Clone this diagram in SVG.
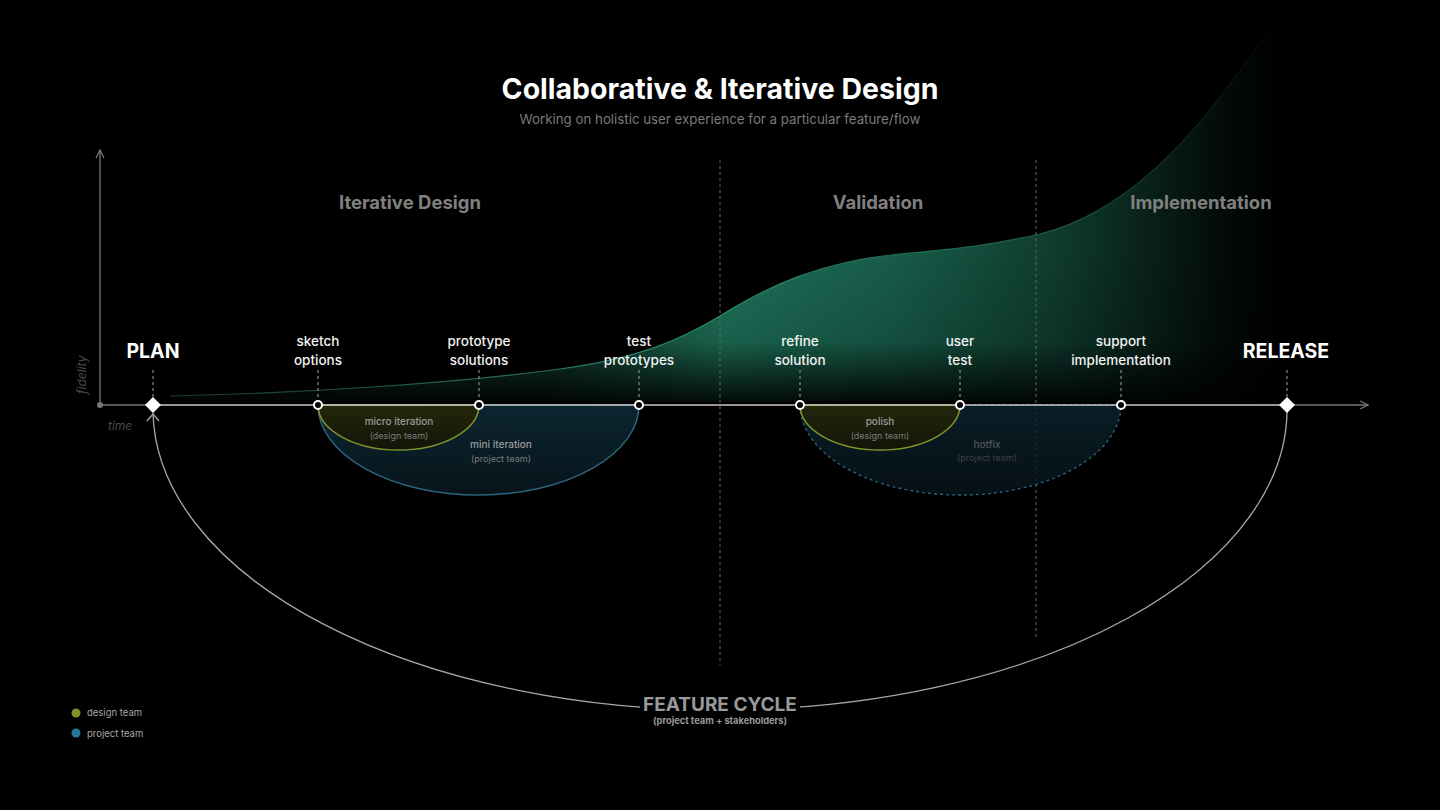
<svg xmlns="http://www.w3.org/2000/svg" width="1440" height="810" viewBox="0 0 1440 810">
<defs>
<style>
text{font-family:Inter,"Liberation Sans",sans-serif}
.title{font-size:28.5px;font-weight:700;fill:#fff}
.sub{font-size:13.3px;fill:#7a7a7a}
.sec{font-size:18.5px;font-weight:700;fill:#808080}
.lbl{font-size:13.5px;font-weight:500;fill:#f2f2f2}
.big{font-size:19.5px;font-weight:700;fill:#fff}
.it1{font-size:10px;font-weight:500;fill:#9a9a9a}
.it2{font-size:9px;fill:#7a7a7a}
.ax{font-size:12px;font-style:italic;fill:#4a4a4a}
.leg{font-size:9.5px;fill:#a8a8a8}
.lead{stroke:#8a8a8a;stroke-width:1.2;stroke-dasharray:3 3;fill:none}
.sep{stroke:#666;stroke-width:1;stroke-dasharray:3 3;fill:none}
.node{fill:#000;stroke:#fff;stroke-width:2}
.dia{fill:#fff}
</style>
<marker id="arr" viewBox="0 0 10 10" refX="9" refY="5" markerWidth="10" markerHeight="10" orient="auto" markerUnits="userSpaceOnUse">
<path d="M1 1 L9 5 L1 9" fill="none" stroke="#777" stroke-width="1.3"/>
</marker>
<linearGradient id="gH" gradientUnits="userSpaceOnUse" x1="170" y1="0" x2="1280" y2="0">
<stop offset="0" stop-color="#0a1f19"/>
<stop offset="0.35" stop-color="#123f33"/>
<stop offset="0.5" stop-color="#1e7259"/>
<stop offset="0.65" stop-color="#185c49"/>
<stop offset="0.8" stop-color="#0f3b2e"/>
<stop offset="0.95" stop-color="#030a08"/>
<stop offset="1" stop-color="#000"/>
</linearGradient>
<linearGradient id="gS" gradientUnits="userSpaceOnUse" x1="170" y1="0" x2="1280" y2="0">
<stop offset="0" stop-color="#1a3a30"/>
<stop offset="0.5" stop-color="#2c8a6e"/>
<stop offset="0.8" stop-color="#1a5a47"/>
<stop offset="1" stop-color="#000"/>
</linearGradient>
<linearGradient id="gV" gradientUnits="userSpaceOnUse" x1="0" y1="250" x2="0" y2="402">
<stop offset="0" stop-color="#fff"/>
<stop offset="0.6" stop-color="#fff" stop-opacity="0.85"/>
<stop offset="1" stop-color="#fff" stop-opacity="0.1"/>
</linearGradient>
<mask id="fade" maskUnits="userSpaceOnUse" x="0" y="0" width="1440" height="810">
<rect x="0" y="0" width="1440" height="810" fill="url(#gV)"/>
</mask>
<linearGradient id="gOl" x1="0" y1="0" x2="0" y2="1">
<stop offset="0" stop-color="#23280b"/>
<stop offset="1" stop-color="#121408"/>
</linearGradient>
<linearGradient id="gBl" x1="0" y1="0" x2="0" y2="1">
<stop offset="0" stop-color="#0c2530"/>
<stop offset="1" stop-color="#07141a"/>
</linearGradient>
</defs>
<rect x="0" y="0" width="1440" height="810" fill="#000"/>

<g id="title">
<text class="title" x="720" y="99" text-anchor="middle">Collaborative &amp; Iterative Design</text>
<text class="sub" x="720" y="124" text-anchor="middle">Working on holistic user experience for a particular feature/flow</text>
</g>

<g id="fidelity-curve">
<path d="M170 396 C300 393 450 384 560 369 C640 358 680 340 720 316 C770 285 820 262 900 254 C970 248 1000 243 1040 234 C1120 214 1190 150 1275 20 L1275 402 L170 402 Z" fill="url(#gH)" mask="url(#fade)"/>
<path d="M170 396 C300 393 450 384 560 369 C640 358 680 340 720 316 C770 285 820 262 900 254 C970 248 1000 243 1040 234 C1120 214 1190 150 1275 20" fill="none" stroke="url(#gS)" stroke-width="1.2"/>
</g>

<g id="sections">
<path class="sep" d="M720 160 V665"/>
<path class="sep" d="M1036 160 V640"/>
<text class="sec" x="410" y="209" text-anchor="middle">Iterative Design</text>
<text class="sec" x="878" y="209" text-anchor="middle">Validation</text>
<text class="sec" x="1201" y="209" text-anchor="middle">Implementation</text>
</g>

<g id="iterations">
<path id="mini" d="M318 405 A160.5 90 0 0 0 639 405 Z" fill="url(#gBl)" stroke="#2b6580" stroke-width="1.5"/>
<path id="hotfix" d="M800 405 A160.5 90 0 0 0 1121 405 Z" fill="url(#gBl)" fill-opacity="0.8" stroke="#2b6580" stroke-width="1.3" stroke-dasharray="3 3"/>
<path id="micro" d="M318 405 A80.5 45 0 0 0 479 405 Z" fill="url(#gOl)" stroke="#7f922b" stroke-width="1.5"/>
<path id="polish" d="M800 405 A80 45 0 0 0 960 405 Z" fill="url(#gOl)" stroke="#7f922b" stroke-width="1.5"/>
<text class="it1" x="399" y="425" text-anchor="middle">micro iteration</text>
<text class="it2" x="399" y="439" text-anchor="middle">(design team)</text>
<text class="it1" x="501" y="448" text-anchor="middle">mini iteration</text>
<text class="it2" x="501" y="462" text-anchor="middle">(project team)</text>
<text class="it1" x="880" y="425" text-anchor="middle">polish</text>
<text class="it2" x="880" y="439" text-anchor="middle">(design team)</text>
<text class="it1" x="987" y="448" text-anchor="middle" style="fill:#555">hotfix</text>
<text class="it2" x="987" y="461" text-anchor="middle" style="fill:#404040">(project team)</text>
</g>

<g id="connectors">
<path d="M100 405 V150" stroke="#777" stroke-width="1.3" fill="none" marker-end="url(#arr)"/>
<path d="M100 405 H153" stroke="#777" stroke-width="1.3" fill="none"/>
<path d="M153 405 H1287" stroke="#c8c8c8" stroke-width="1.5" fill="none"/>
<path d="M1287 405 H1368" stroke="#777" stroke-width="1.3" fill="none" marker-end="url(#arr)"/>
<path id="feature-cycle" d="M1287 405 A567 301 0 0 1 153 413" stroke="#a8a8a8" stroke-width="1.3" fill="none"/>
<path d="M147 421 L153 414 L159 421" stroke="#a8a8a8" stroke-width="1.3" fill="none"/>
</g>

<g id="axis-labels">
<circle cx="100" cy="405" r="3" fill="#777"/>
<text class="ax" x="0" y="0" transform="translate(86 394) rotate(-90)">fidelity</text>
<text class="ax" x="108" y="430">time</text>
</g>

<g id="plan">
<path class="lead" d="M153 370 V397"/>
<path class="dia" d="M153 397 L161 405 L153 413 L145 405 Z"/>
<text class="big" x="153" y="358" text-anchor="middle">PLAN</text>
</g>
<g id="sketch-options">
<path class="lead" d="M318 370 V400"/>
<circle class="node" cx="318" cy="405" r="4"/>
<text class="lbl" x="318" y="346" text-anchor="middle">sketch</text>
<text class="lbl" x="318" y="365" text-anchor="middle">options</text>
</g>
<g id="prototype-solutions">
<path class="lead" d="M479 370 V400"/>
<circle class="node" cx="479" cy="405" r="4"/>
<text class="lbl" x="479" y="346" text-anchor="middle">prototype</text>
<text class="lbl" x="479" y="365" text-anchor="middle">solutions</text>
</g>
<g id="test-prototypes">
<path class="lead" d="M639 370 V400"/>
<circle class="node" cx="639" cy="405" r="4"/>
<text class="lbl" x="639" y="346" text-anchor="middle">test</text>
<text class="lbl" x="639" y="365" text-anchor="middle">prototypes</text>
</g>
<g id="refine-solution">
<path class="lead" d="M800 370 V400"/>
<circle class="node" cx="800" cy="405" r="4"/>
<text class="lbl" x="800" y="346" text-anchor="middle">refine</text>
<text class="lbl" x="800" y="365" text-anchor="middle">solution</text>
</g>
<g id="user-test">
<path class="lead" d="M960 370 V400"/>
<circle class="node" cx="960" cy="405" r="4"/>
<text class="lbl" x="960" y="346" text-anchor="middle">user</text>
<text class="lbl" x="960" y="365" text-anchor="middle">test</text>
</g>
<g id="support-implementation">
<path class="lead" d="M1121 370 V400"/>
<circle class="node" cx="1121" cy="405" r="4"/>
<text class="lbl" x="1121" y="346" text-anchor="middle">support</text>
<text class="lbl" x="1121" y="365" text-anchor="middle">implementation</text>
</g>
<g id="release">
<path class="lead" d="M1287 370 V397"/>
<path class="dia" d="M1287 397 L1295 405 L1287 413 L1279 405 Z"/>
<text class="big" x="1286" y="358" text-anchor="middle">RELEASE</text>
</g>

<g id="feature-cycle-label">
<rect x="640" y="690" width="160" height="36" fill="#000"/>
<text x="720" y="711" text-anchor="middle" style="font-size:19px;font-weight:700;fill:#999">FEATURE CYCLE</text>
<text x="720" y="724" text-anchor="middle" style="font-size:9.3px;font-weight:700;fill:#9a9a9a">(project team + stakeholders)</text>
</g>

<g id="legend">
<circle cx="76" cy="713" r="4.5" fill="#7f922b"/>
<text class="leg" x="87" y="716">design team</text>
<circle cx="76" cy="733" r="4.5" fill="#2a7595"/>
<text class="leg" x="87" y="737">project team</text>
</g>
</svg>
